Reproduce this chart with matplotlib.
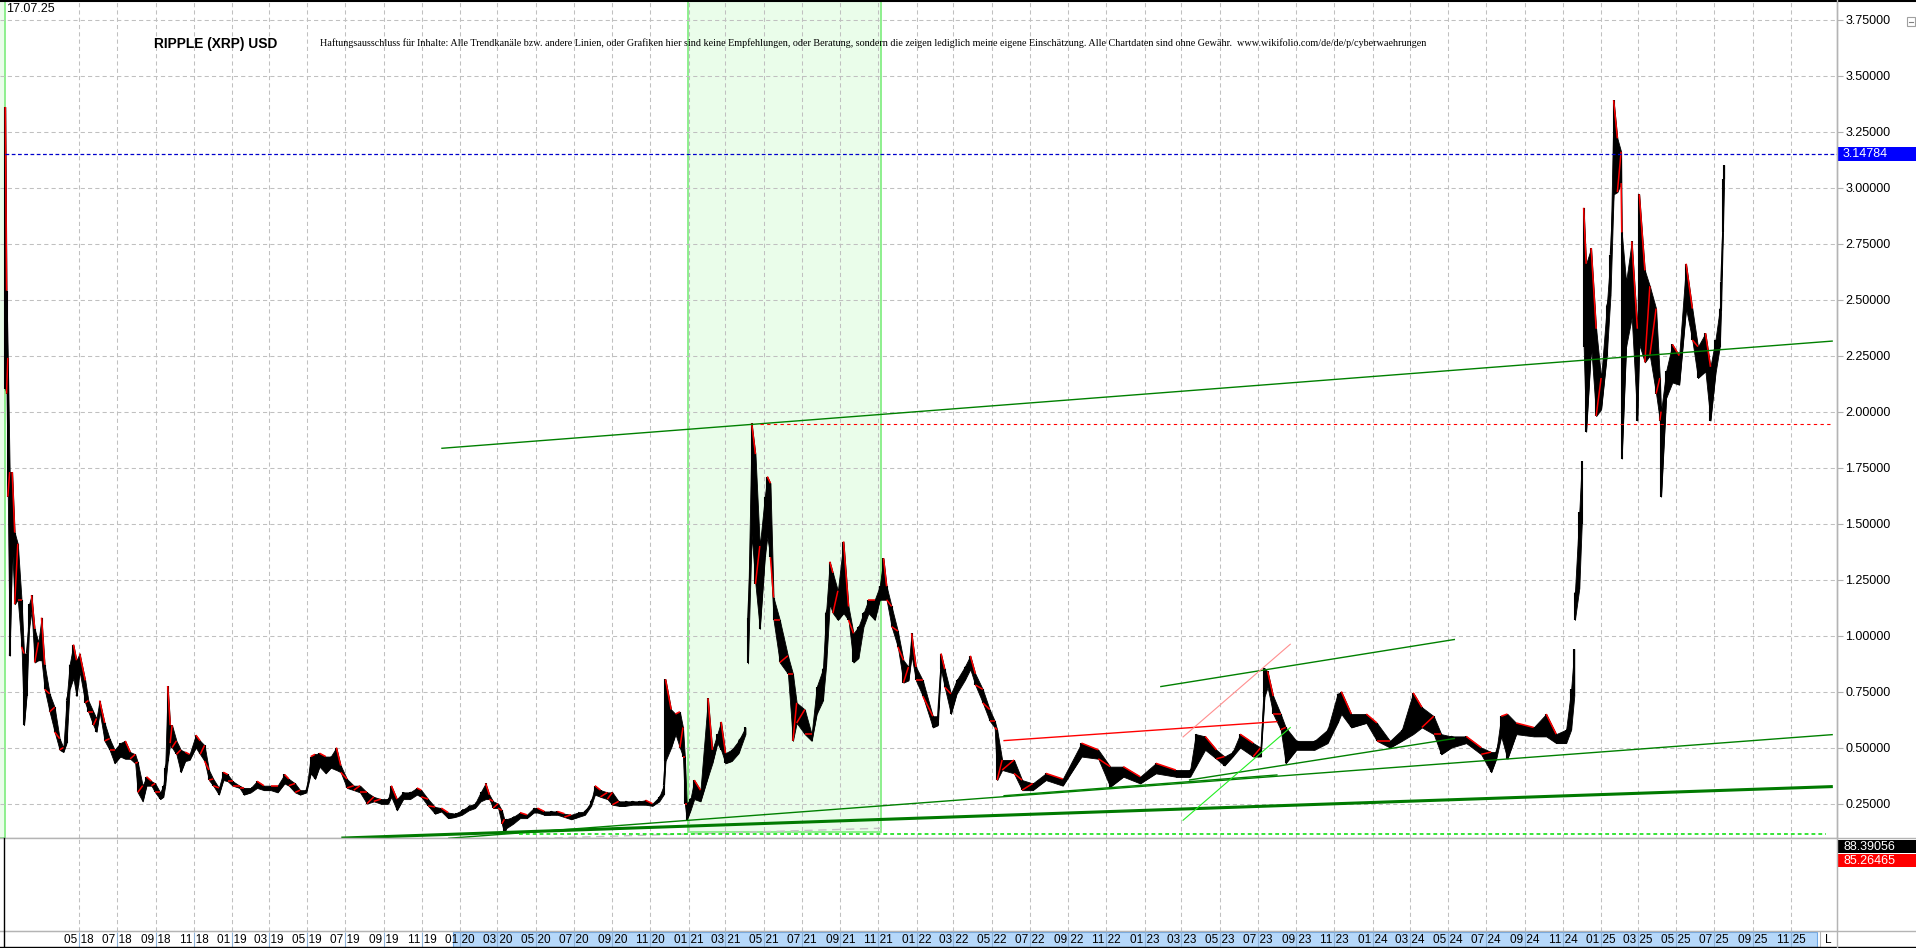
"""
RIPPLE (XRP) USD - price bars with trend lines
Values are read off the reference chart
"""

# Imports
import matplotlib
matplotlib.use("Agg")
import matplotlib.pyplot as plt
import matplotlib.dates as mdates
import matplotlib.ticker as ticker
import matplotlib.transforms as mtransforms
from matplotlib.patches import Rectangle
from matplotlib.lines import Line2D
from matplotlib.collections import LineCollection
import numpy as np

# General constants
OUTPUT_FILE = "out.png"
W, H = 1916, 948

# Price bars: date, low, high
bar_dates = [
    "2018-01-03", "2018-01-05", "2018-01-07", "2018-01-10", "2018-01-14", "2018-01-18", "2018-01-23",
    "2018-01-29", "2018-02-02", "2018-02-06", "2018-02-10", "2018-02-14", "2018-02-19", "2018-02-25",
    "2018-03-02", "2018-03-07", "2018-03-15", "2018-03-23", "2018-03-31", "2018-04-06", "2018-04-11",
    "2018-04-16", "2018-04-22", "2018-04-27", "2018-05-02", "2018-05-11", "2018-05-16", "2018-05-24",
    "2018-05-29", "2018-06-03", "2018-06-11", "2018-06-19", "2018-06-27", "2018-07-06", "2018-07-14",
    "2018-07-22", "2018-07-30", "2018-08-03", "2018-08-11", "2018-08-17", "2018-08-25", "2018-08-31",
    "2018-09-08", "2018-09-13", "2018-09-16", "2018-09-20", "2018-09-24", "2018-09-27", "2018-10-04",
    "2018-10-11", "2018-10-18", "2018-10-25", "2018-11-04", "2018-11-11", "2018-11-18", "2018-11-25",
    "2018-12-02", "2018-12-11", "2018-12-18", "2018-12-25",
    "2019-01-02", "2019-01-13", "2019-01-20", "2019-01-31", "2019-02-10", "2019-02-21", "2019-03-04",
    "2019-03-15", "2019-03-26", "2019-04-02", "2019-04-12", "2019-04-20", "2019-04-30", "2019-05-07",
    "2019-05-14", "2019-05-21", "2019-05-31", "2019-06-08", "2019-06-17", "2019-06-24", "2019-07-04",
    "2019-07-15", "2019-07-25", "2019-08-05", "2019-08-16", "2019-08-27", "2019-09-08", "2019-09-13",
    "2019-09-22", "2019-10-02", "2019-10-13", "2019-10-24", "2019-10-31", "2019-11-11", "2019-11-22",
    "2019-12-02", "2019-12-13", "2019-12-24",
    "2020-01-04", "2020-01-15", "2020-01-25", "2020-02-03", "2020-02-11", "2020-02-17", "2020-02-23",
    "2020-03-02", "2020-03-08", "2020-03-12", "2020-03-15", "2020-03-26", "2020-04-06", "2020-04-17",
    "2020-04-28", "2020-05-04", "2020-05-15", "2020-05-26", "2020-06-05", "2020-06-16", "2020-06-27",
    "2020-07-08", "2020-07-19", "2020-07-29", "2020-08-04", "2020-08-13", "2020-08-24", "2020-09-01",
    "2020-09-11", "2020-09-22", "2020-10-03", "2020-10-14", "2020-10-24", "2020-11-04", "2020-11-15",
    "2020-11-22", "2020-11-25", "2020-12-04", "2020-12-11", "2020-12-18", "2020-12-23", "2020-12-26",
    "2020-12-29",
    "2021-01-04", "2021-01-10", "2021-01-20", "2021-02-01", "2021-02-08", "2021-02-16", "2021-02-22",
    "2021-03-01", "2021-03-11", "2021-03-22", "2021-04-02", "2021-04-06", "2021-04-12", "2021-04-18",
    "2021-04-25", "2021-05-03", "2021-05-07", "2021-05-12", "2021-05-17", "2021-05-27", "2021-06-09",
    "2021-06-17", "2021-06-23", "2021-07-06", "2021-07-17", "2021-07-25", "2021-08-04", "2021-08-09",
    "2021-08-15", "2021-08-20", "2021-08-28", "2021-09-06", "2021-09-14", "2021-09-22", "2021-09-30",
    "2021-10-08", "2021-10-16", "2021-10-26", "2021-11-03", "2021-11-09", "2021-11-14", "2021-11-22",
    "2021-12-02", "2021-12-11", "2021-12-19", "2021-12-24", "2021-12-31",
    "2022-01-11", "2022-01-27", "2022-02-04", "2022-02-09", "2022-02-15", "2022-02-25", "2022-03-06",
    "2022-03-19", "2022-03-28", "2022-04-05", "2022-04-17", "2022-04-28", "2022-05-06", "2022-05-10",
    "2022-05-18", "2022-06-06", "2022-06-19", "2022-07-06", "2022-07-27", "2022-08-23", "2022-09-22",
    "2022-10-19", "2022-11-07", "2022-11-28", "2022-12-25",
    "2023-01-19", "2023-02-20", "2023-03-15", "2023-03-24", "2023-04-08", "2023-04-26", "2023-05-09",
    "2023-05-22", "2023-06-03", "2023-06-24", "2023-07-06", "2023-07-12", "2023-07-17", "2023-07-26",
    "2023-08-07", "2023-08-15", "2023-09-01", "2023-09-30", "2023-10-21", "2023-11-06", "2023-11-12",
    "2023-11-28", "2023-12-22",
    "2024-01-08", "2024-01-29", "2024-02-17", "2024-03-06", "2024-03-20", "2024-04-08", "2024-04-20",
    "2024-05-06", "2024-05-30", "2024-06-23", "2024-07-09", "2024-07-17", "2024-07-25", "2024-08-04",
    "2024-08-18", "2024-09-15", "2024-10-05", "2024-10-21", "2024-11-06", "2024-11-14", "2024-11-19",
    "2024-11-20", "2024-11-27", "2024-12-01", "2024-12-04", "2024-12-08", "2024-12-16", "2024-12-24",
    "2025-01-01", "2025-01-10", "2025-01-16", "2025-01-21", "2025-01-27", "2025-02-02", "2025-02-03",
    "2025-02-10", "2025-02-19", "2025-02-28", "2025-03-03", "2025-03-12", "2025-03-20", "2025-03-30",
    "2025-04-05", "2025-04-07", "2025-04-15", "2025-04-25", "2025-05-06", "2025-05-17", "2025-05-27",
    "2025-06-05", "2025-06-17", "2025-06-25", "2025-07-03", "2025-07-10", "2025-07-12", "2025-07-15",
    "2025-07-17",
]
bar_low = [
    2.10, 2.08, 1.62, 0.91, 1.39, 1.14, 1.16, 0.95, 0.60, 0.73, 1.03, 1.11, 0.88, 0.89,
    0.89, 0.76, 0.66, 0.57, 0.49, 0.48, 0.52, 0.76, 0.81, 0.73, 0.84, 0.70, 0.66, 0.60,
    0.57, 0.66, 0.53, 0.49, 0.43, 0.46, 0.45, 0.45, 0.43, 0.30, 0.26, 0.33, 0.33, 0.30,
    0.27, 0.28, 0.33, 0.44, 0.52, 0.50, 0.47, 0.39, 0.44, 0.445, 0.50, 0.47, 0.44, 0.355,
    0.33, 0.29, 0.355, 0.35,
    0.33, 0.32, 0.29, 0.30, 0.32, 0.31, 0.31, 0.30, 0.34, 0.33, 0.30, 0.29, 0.30, 0.385,
    0.36, 0.415, 0.385, 0.41, 0.40, 0.39, 0.32, 0.31, 0.30, 0.25, 0.26, 0.25, 0.25, 0.28,
    0.22, 0.27, 0.27, 0.29, 0.28, 0.24, 0.205, 0.215, 0.185, 0.19,
    0.20, 0.22, 0.23, 0.26, 0.27, 0.27, 0.23, 0.23, 0.16, 0.117, 0.14, 0.16, 0.185, 0.185,
    0.21, 0.21, 0.20, 0.20, 0.20, 0.19, 0.18, 0.19, 0.20, 0.24, 0.29, 0.28, 0.27, 0.245,
    0.24, 0.24, 0.245, 0.245, 0.245, 0.24, 0.26, 0.29, 0.44, 0.50, 0.56, 0.50, 0.46, 0.25,
    0.177,
    0.22, 0.27, 0.26, 0.37, 0.43, 0.52, 0.49, 0.43, 0.44, 0.475, 0.56, 0.876, 1.45, 1.23,
    1.03, 1.35, 1.44, 1.35, 1.07, 0.88, 0.83, 0.53, 0.61, 0.56, 0.53, 0.65, 0.71, 0.86,
    1.14, 1.10, 1.07, 1.10, 1.07, 0.88, 0.90, 1.04, 1.10, 1.07, 1.16, 1.16, 1.16, 1.04,
    0.95, 0.79, 0.80, 0.91, 0.80,
    0.73, 0.59, 0.60, 0.85, 0.77, 0.65, 0.74, 0.80, 0.85, 0.78, 0.70, 0.62, 0.59, 0.355,
    0.40, 0.385, 0.31, 0.31, 0.355, 0.33, 0.46, 0.45, 0.325, 0.37, 0.34,
    0.385, 0.37, 0.37, 0.415, 0.49, 0.45, 0.42, 0.46, 0.50, 0.46, 0.46, 0.727, 0.77, 0.65,
    0.58, 0.43, 0.49, 0.49, 0.52, 0.61, 0.65, 0.59, 0.61,
    0.53, 0.50, 0.53, 0.56, 0.59, 0.56, 0.47, 0.50, 0.52, 0.47, 0.39, 0.45, 0.55, 0.45,
    0.56, 0.55, 0.55, 0.52, 0.52, 0.58, 0.73, 1.07, 1.21, 1.50, 2.29, 1.91, 2.29, 1.98,
    2.01, 2.25, 2.52, 2.97, 2.98, 3.02, 1.79, 2.29, 2.42, 1.96, 2.30, 2.22, 2.25, 2.08,
    1.96, 1.62, 2.06, 2.13, 2.12, 2.46, 2.32, 2.15, 2.18, 1.96, 2.17, 2.29, 2.45, 2.80,
    3.04,
]
bar_high = [
    3.36, 2.54, 2.24, 1.73, 1.73, 1.46, 1.41, 1.16, 0.92, 0.92, 1.14, 1.18, 1.03, 0.97,
    1.08, 0.87, 0.74, 0.68, 0.54, 0.50, 0.71, 0.87, 0.96, 0.89, 0.92, 0.80, 0.71, 0.66,
    0.63, 0.71, 0.61, 0.54, 0.49, 0.52, 0.53, 0.48, 0.47, 0.435, 0.33, 0.37, 0.35, 0.34,
    0.30, 0.33, 0.41, 0.775, 0.60, 0.60, 0.53, 0.49, 0.48, 0.47, 0.556, 0.53, 0.51, 0.40,
    0.36, 0.32, 0.39, 0.38,
    0.35, 0.33, 0.32, 0.32, 0.35, 0.33, 0.33, 0.33, 0.38, 0.36, 0.34, 0.31, 0.31, 0.46,
    0.47, 0.475, 0.46, 0.46, 0.50, 0.42, 0.36, 0.33, 0.33, 0.30, 0.28, 0.27, 0.27, 0.33,
    0.27, 0.30, 0.30, 0.32, 0.31, 0.27, 0.235, 0.23, 0.21, 0.205,
    0.22, 0.24, 0.25, 0.30, 0.34, 0.29, 0.26, 0.25, 0.22, 0.18, 0.18, 0.19, 0.21, 0.20,
    0.23, 0.23, 0.215, 0.215, 0.215, 0.205, 0.20, 0.21, 0.215, 0.26, 0.33, 0.31, 0.30, 0.30,
    0.26, 0.26, 0.26, 0.26, 0.265, 0.25, 0.28, 0.33, 0.805, 0.67, 0.65, 0.66, 0.59, 0.46,
    0.25,
    0.27, 0.355, 0.31, 0.72, 0.49, 0.56, 0.615, 0.475, 0.49, 0.53, 0.59, 1.077, 1.947, 1.81,
    1.40, 1.62, 1.71, 1.68, 1.17, 1.07, 0.91, 0.83, 0.70, 0.67, 0.56, 0.77, 0.85, 1.10,
    1.33, 1.28, 1.20, 1.42, 1.13, 1.01, 1.04, 1.10, 1.16, 1.16, 1.22, 1.345, 1.22, 1.13,
    1.02, 0.89, 0.86, 1.01, 0.86,
    0.80, 0.64, 0.64, 0.92, 0.85, 0.74, 0.80, 0.86, 0.91, 0.83, 0.76, 0.67, 0.62, 0.58,
    0.445, 0.445, 0.355, 0.34, 0.385, 0.36, 0.52, 0.49, 0.415, 0.415, 0.37,
    0.43, 0.40, 0.40, 0.56, 0.55, 0.49, 0.46, 0.48, 0.56, 0.52, 0.50, 0.854, 0.84, 0.73,
    0.65, 0.59, 0.53, 0.53, 0.58, 0.74, 0.75, 0.65, 0.65,
    0.61, 0.53, 0.58, 0.745, 0.68, 0.64, 0.56, 0.55, 0.55, 0.50, 0.48, 0.48, 0.64, 0.65,
    0.61, 0.59, 0.65, 0.56, 0.58, 0.76, 0.94, 1.19, 1.55, 1.78, 2.91, 2.66, 2.73, 2.37,
    2.15, 2.47, 2.70, 3.39, 3.22, 3.16, 2.80, 2.58, 2.76, 2.37, 2.97, 2.63, 2.56, 2.46,
    2.15, 2.00, 2.18, 2.30, 2.25, 2.66, 2.46, 2.29, 2.35, 2.20, 2.32, 2.46, 2.58, 3.04,
    3.10,
]
# The chart has holes (no bars) right before these dates
gap_dates = ["2021-04-06", "2024-11-20", "2024-12-04"]

# Axis and label data
price_ticks = [0.25, 0.50, 0.75, 1.00, 1.25, 1.50, 1.75, 2.00, 2.25, 2.50, 2.75, 3.00, 3.25, 3.50, 3.75]
date_labels = [
    "05 18", "07 18", "09 18", "11 18", "01 19", "03 19", "05 19", "07 19", "09 19", "11 19",
    "01 20", "03 20", "05 20", "07 20", "09 20", "11 20", "01 21", "03 21", "05 21", "07 21",
    "09 21", "11 21", "01 22", "03 22", "05 22", "07 22", "09 22", "11 22", "01 23", "03 23",
    "05 23", "07 23", "09 23", "11 23", "01 24", "03 24", "05 24", "07 24", "09 24", "11 24",
    "01 25", "03 25", "05 25", "07 25", "09 25", "11 25",
]
last_price = 3.14784
resistance_level = 1.945
dotted_level = 0.114
indicator_values = ["88.39056", "85.26465"]
chart_date = "17.07.25"
title = "RIPPLE (XRP) USD"
disclaimer = ("Haftungsausschluss für Inhalte: Alle Trendkanäle bzw. andere Linien, oder Grafiken hier sind "
              "keine Empfehlungen, oder Beratung, sondern die zeigen lediglich meine eigene Einschätzung. "
              "Alle Chartdaten sind ohne Gewähr.  www.wikifolio.com/de/de/p/cyberwaehrungen")

# Highlighted time ranges
left_zone_end = "2018-01-02"
zone_2021 = ["2020-12-31", "2021-11-05", 0.123]

# Trend lines: start date, start value, end date, end value
upper_channel = ["2019-12-02", 1.836, "2026-01-07", 2.315]
base_thick = ["2019-06-25", 0.096, "2026-01-07", 0.326]
base_thin = ["2019-12-13", 0.095, "2026-01-07", 0.558]
lows_2022 = ["2022-05-20", 0.285, "2023-08-02", 0.378]
upper_2023 = ["2023-01-26", 0.772, "2024-05-12", 0.983]
support_2023 = ["2023-03-13", 0.355, "2024-05-12", 0.541]
red_2022 = ["2022-05-20", 0.531, "2023-08-02", 0.616]
pink_2023 = ["2023-03-03", 0.546, "2023-08-23", 0.963]
lime_2023 = ["2023-03-03", 0.174, "2023-08-23", 0.591]
grey_2020 = ["2020-05-09", 0.095, "2021-11-05", 0.140]
resistance_range = ["2021-04-26", "2026-01-07"]
dotted_range = ["2020-04-04", "2025-12-27"]

# Fonts
plt.rcParams["font.family"] = ["Liberation Sans", "DejaVu Sans"]

# Figure layout (pixel based)
fig = plt.figure(figsize=(W / 100, H / 100), dpi=100)
AX_RIGHT = 1837
PRICE_BOTTOM = 838
LOW_BOTTOM = 931


def fy(y):
    return 1 - y / H


ax = fig.add_axes([0, fy(PRICE_BOTTOM), AX_RIGHT / W, PRICE_BOTTOM / H])
ax_low = fig.add_axes([0, fy(LOW_BOTTOM), AX_RIGHT / W, (LOW_BOTTOM - PRICE_BOTTOM) / H])
ax_strip = fig.add_axes([0, 0, AX_RIGHT / W, (H - LOW_BOTTOM) / H])

# Time scale: 05/18 tick at x=79, 11/25 tick at x=1791
t0 = mdates.datestr2num("2018-05-01")
t1 = mdates.datestr2num("2025-11-01")
ppd = (1791 - 79) / (t1 - t0)
xlim = (t0 - 79 / ppd, t0 + (AX_RIGHT - 79) / ppd)
ylim = (0.0964, 3.8375)
px_per_unit = PRICE_BOTTOM / (ylim[1] - ylim[0])

tick_nums = [mdates.datestr2num("20%s-%s-01" % (lbl[3:], lbl[:2])) for lbl in date_labels]

for a in (ax, ax_low, ax_strip):
    a.set_xlim(*xlim)
ax.set_ylim(*ylim)

GRID = "#c0c0c0"
GREEN_FILL = "#eafdea"
GREEN_EDGE = "#86ee86"

# Highlight zones
ax.axvspan(xlim[0] - 30, mdates.datestr2num(left_zone_end), facecolor=GREEN_FILL,
           edgecolor=GREEN_EDGE, lw=1.3, zorder=0)
z0, z1 = mdates.datestr2num(zone_2021[0]), mdates.datestr2num(zone_2021[1])
ax.add_patch(Rectangle((z0, zone_2021[2]), z1 - z0, 5, facecolor=GREEN_FILL,
                       edgecolor=GREEN_EDGE, lw=1.3, zorder=0))

# Grid
ax.set_axisbelow(True)
ax.set_xticks(tick_nums)
ax.set_yticks(price_ticks)
ax.grid(True, color=GRID, linestyle=(0, (4, 3)), linewidth=0.75)
ax.tick_params(axis="x", length=0, labelbottom=False)
ax.yaxis.tick_right()
ax.yaxis.set_major_formatter(ticker.FormatStrFormatter("%.5f"))
ax.tick_params(axis="y", length=4, width=0.8, color="#b0b0b0", pad=2, labelsize=9,
               labelcolor="black")
ax.spines["left"].set_visible(False)
ax.spines["top"].set_color("black")
ax.spines["top"].set_linewidth(2)
for s in ("right", "bottom"):
    ax.spines[s].set_color("#b4b4b4")
    ax.spines[s].set_linewidth(1)

ax_low.set_xticks(tick_nums)
ax_low.set_yticks([])
ax_low.grid(True, axis="x", color=GRID, linestyle=(0, (4, 3)), linewidth=0.75)
ax_low.tick_params(axis="x", length=0, labelbottom=False)
for s in ("left", "top"):
    ax_low.spines[s].set_visible(False)
for s in ("right", "bottom"):
    ax_low.spines[s].set_color("#b4b4b4")

# Price bars: black range band plus bar-to-bar zigzag, down moves in red
dn = mdates.datestr2num(bar_dates)
lo = np.array(bar_low)
hi = np.array(bar_high)
mid = (lo + hi) / 2
cuts = [0] + [bar_dates.index(d) for d in gap_dates] + [len(bar_dates)]
for s, e in zip(cuts[:-1], cuts[1:]):
    ax.fill_between(dn[s:e], lo[s:e], hi[s:e], facecolor="black", edgecolor="black",
                    linewidth=0.6, zorder=4)

bars, links, link_cols = [], [], []
prev_end = None
for i in range(len(dn)):
    rising = i == 0 or mid[i] >= mid[i - 1]
    start, end = (lo[i], hi[i]) if rising else (hi[i], lo[i])
    if prev_end is not None and bar_dates[i] not in gap_dates:
        links.append([prev_end, (dn[i], start)])
        link_cols.append("black" if rising else "#ff0000")
    bars.append([(dn[i], start), (dn[i], end)])
    prev_end = (dn[i], end)
ax.add_collection(LineCollection(bars, colors="black", linewidths=1.5, zorder=4,
                                 capstyle="butt"))
ax.add_collection(LineCollection(links, colors=link_cols, linewidths=1.1, zorder=5))


# Trend lines
def trend(line, color, lw, ls="-", z=6):
    ax.plot(mdates.datestr2num([line[0], line[2]]), [line[1], line[3]], color=color, lw=lw,
            linestyle=ls, zorder=z, solid_capstyle="butt")


trend(grey_2020, "#c4c4c4", 1.0, (0, (6, 4)), z=3)
trend(base_thick, "#007a00", 2.2)
trend(base_thin, "#008000", 1.0)
trend(lows_2022, "#008000", 1.0)
trend(upper_channel, "#008000", 1.0)
trend(upper_2023, "#008000", 1.0)
trend(support_2023, "#008000", 1.0)
trend(red_2022, "#ff0000", 1.0)
trend(pink_2023, "#ff8f8f", 0.8)
trend(lime_2023, "#22ee22", 0.8)
ax.plot(mdates.datestr2num(resistance_range), [resistance_level] * 2, color="#ff0000", lw=0.8,
        linestyle=(0, (3, 3)), zorder=6)
ax.plot(mdates.datestr2num(dotted_range), [dotted_level] * 2, color="#00dd00", lw=1.1,
        linestyle=(0, (2.5, 2)), zorder=6)
ax.plot([mdates.datestr2num(left_zone_end), xlim[1]], [last_price] * 2, color="#0000cc", lw=0.9,
        linestyle=(0, (3, 2)), zorder=6)

# Last price label on the right axis
blend = mtransforms.blended_transform_factory(fig.transFigure, ax.transData)
half = 7 / px_per_unit
fig.add_artist(Rectangle((AX_RIGHT / W, last_price - half), (W - AX_RIGHT) / W, 2 * half,
                         transform=blend, facecolor="#0000ff", edgecolor="none"))
fig.text(1843 / W, last_price, "%.5f" % last_price, transform=blend, color="white",
         fontsize=9, va="center", ha="left")

# Indicator labels of the lower panel
for (top, bg), val in zip(((840, "black"), (854, "#ff0000")), indicator_values):
    fig.add_artist(Rectangle((AX_RIGHT / W, fy(top + 13)), (W - AX_RIGHT) / W, 13 / H,
                             transform=fig.transFigure, facecolor=bg, edgecolor="none"))
    fig.text(1843 / W, fy(top + 6.5), val, color="white", fontsize=9, va="center", ha="left")

# Date strip
ax_strip.set_ylim(0, 1)
ax_strip.axis("off")
ax_strip.add_patch(Rectangle((453 / AX_RIGHT, 0.08), (1817 - 453) / AX_RIGHT, 0.84,
                             transform=ax_strip.transAxes, facecolor="#b6d8fa",
                             edgecolor="#6fa8e6", lw=0.8))
ax_strip.vlines(tick_nums, 0.08, 0.92, color="#8fb3d9", lw=0.8)
for t, lbl in zip(tick_nums, date_labels):
    ax_strip.text(t, 0.45, lbl, ha="center", va="center", fontsize=8.5, color="black")
ax_strip.text(1828 / AX_RIGHT, 0.45, "L", transform=ax_strip.transAxes, ha="center",
              va="center", fontsize=8.5)
ax_strip.plot([1820 / AX_RIGHT] * 2, [0, 1], transform=ax_strip.transAxes, color="#b4b4b4", lw=0.8)

# Frame lines across the whole figure
for y, c in ((PRICE_BOTTOM, "#b4b4b4"), (LOW_BOTTOM, "#b4b4b4"), (947, "black")):
    fig.add_artist(Line2D([0, 1], [fy(y)] * 2, color=c, lw=1))
fig.add_artist(Line2D([0, 1], [1 - 0.5 / H] * 2, color="black", lw=1.5))
fig.add_artist(Line2D([AX_RIGHT / W] * 2, [0, 1], color="#b4b4b4", lw=1))
fig.add_artist(Line2D([4 / W] * 2, [0, fy(PRICE_BOTTOM)], color="black", lw=1))

# Small collapse icon top right
fig.add_artist(Rectangle((1907 / W, fy(26)), 8 / W, 9 / H, transform=fig.transFigure,
                         facecolor="white", edgecolor="#a0a0a0", lw=0.8))
fig.add_artist(Line2D([1909 / W, 1913 / W], [fy(21.5)] * 2, color="#808080", lw=0.8))

# Texts
fig.text(6 / W, fy(9), chart_date, fontsize=9, va="center", ha="left")
t_title = fig.text(154 / W, fy(44), title, fontsize=10, fontweight="bold", va="center", ha="left")
t_disc = fig.text(320 / W, fy(43), disclaimer, fontsize=8, va="center", ha="left",
                  family=["Liberation Serif", "DejaVu Serif"])

# Fit text widths to the reference
fig.canvas.draw()
renderer = fig.canvas.get_renderer()
for txt, target in ((t_title, 123), (t_disc, 1105)):
    width = txt.get_window_extent(renderer).width
    txt.set_fontsize(txt.get_fontsize() * target / width)

fig.savefig(OUTPUT_FILE, dpi=100)
